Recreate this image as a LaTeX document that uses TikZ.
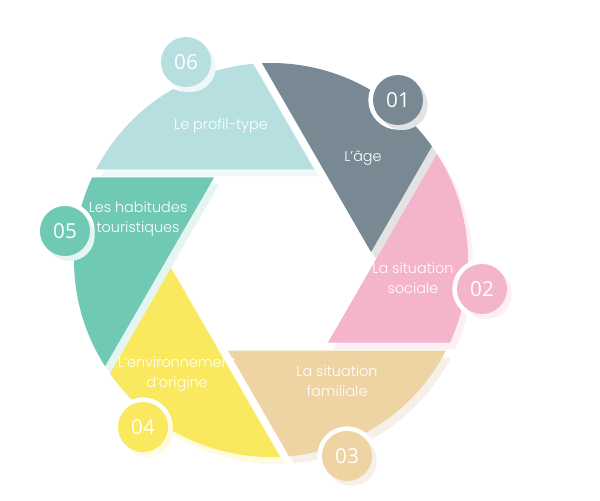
\documentclass[tikz,border=0pt]{standalone}
\usepackage{fontspec}
\newfontfamily\labelfont{Poppins}[UprightFont=* Light]
\newfontfamily\numfont{Open Sans}
\usetikzlibrary{calc,shadows}

\definecolor{c01}{HTML}{788993}
\definecolor{c02}{HTML}{F4B4CB}
\definecolor{c03}{HTML}{EED3A3}
\definecolor{c04}{HTML}{FAE85E}
\definecolor{c05}{HTML}{70C9B5}
\definecolor{c06}{HTML}{B7DFDF}
\definecolor{s01}{HTML}{E3E3E3}
\definecolor{s02}{HTML}{FDEFF4}
\definecolor{s03}{HTML}{F6F0E8}
\definecolor{s04}{HTML}{FEFBDF}
\definecolor{s05}{HTML}{E5F5F1}
\definecolor{s06}{HTML}{EEF8F8}

\tikzset{
    bladetext/.style={text=white, align=center,
        font=\labelfont\fontsize{10.8}{14.5}\selectfont},
    badge/.style 2 args={circle, fill=#1, minimum size=37.5pt, inner sep=0pt,
        text=white, font=\numfont\fontsize{15.5}{16}\selectfont,
        preaction={draw=white, line width=7pt},
        drop shadow={fill=#2, opacity=1, shadow xshift=3.5pt, shadow yshift=-3.75pt}},
}

\begin{document}
\begin{tikzpicture}[x=0.75pt, y=0.75pt]
        \useasboundingbox (-271,-240) rectangle (329,260);
        % inner corners of the blades
        \coordinate (v01) at (100,8);
        \coordinate (v02) at (56.93,-82.60);
        \coordinate (v03) at (-43.07,-90.60);
        \coordinate (v04) at (-100,-8);
        \coordinate (v05) at (-56.93,82.60);
        \coordinate (v06) at (43.07,90.60);
        % shadows
        \begin{scope}
            \clip (5,-7) circle (197);
            \fill[s06] ($(v06)+(5,-7)$) -- +(180:450) -- +(120:450) -- cycle;
            \fill[s01] ($(v01)+(5,-7)$) -- +(120:450) -- +(60:450) -- cycle;
            \fill[s02] ($(v02)+(5,-7)$) -- +(60:450) -- +(0:450) -- cycle;
            \fill[s03] ($(v03)+(5,-7)$) -- +(0:450) -- +(-60:450) -- cycle;
            \fill[s04] ($(v04)+(5,-7)$) -- +(-60:450) -- +(-120:450) -- cycle;
            \fill[s05] ($(v05)+(5,-7)$) -- +(-120:450) -- +(180:450) -- cycle;
        \end{scope}
        % blades
        \begin{scope}
            \clip (0,0) circle (197);
            \fill[c06] (v06) -- +(180:450) -- +(120:450) -- cycle;
            \fill[c01] (v01) -- +(120:450) -- +(60:450) -- cycle;
            \fill[c02] (v02) -- +(60:450) -- +(0:450) -- cycle;
            \fill[c03] (v03) -- +(0:450) -- +(-60:450) -- cycle;
            \fill[c04] (v04) -- +(-60:450) -- +(-120:450) -- cycle;
            \fill[c05] (v05) -- +(-120:450) -- +(180:450) -- cycle;
        \end{scope}
        \node[bladetext] (lbl01) at (92,102) {L’âge};
        \node[bladetext] (lbl02) at (142,-18) {La situation\\sociale};
        \node[bladetext] (lbl03) at (66,-121) {La situation\\familiale};
        \node[bladetext] (lbl04) at (-94,-114) {L’environnement\\d’origine};
        \node[bladetext] (lbl05) at (-133,41) {Les habitudes\\touristiques};
        \node[bladetext] (lbl06) at (-50,134) {Le profil-type};
        \node[badge={c01}{s01}] (num01) at (127,160) {01};
        \node[badge={c02}{s02}] (num02) at (211,-29) {02};
        \node[badge={c03}{s03}] (num03) at (76,-196) {03};
        \node[badge={c04}{s04}] (num04) at (-128,-167) {04};
        \node[badge={c05}{s05}] (num05) at (-206,29) {05};
        \node[badge={c06}{s06}] (num06) at (-85,198) {06};
    \end{tikzpicture}
\end{document}
